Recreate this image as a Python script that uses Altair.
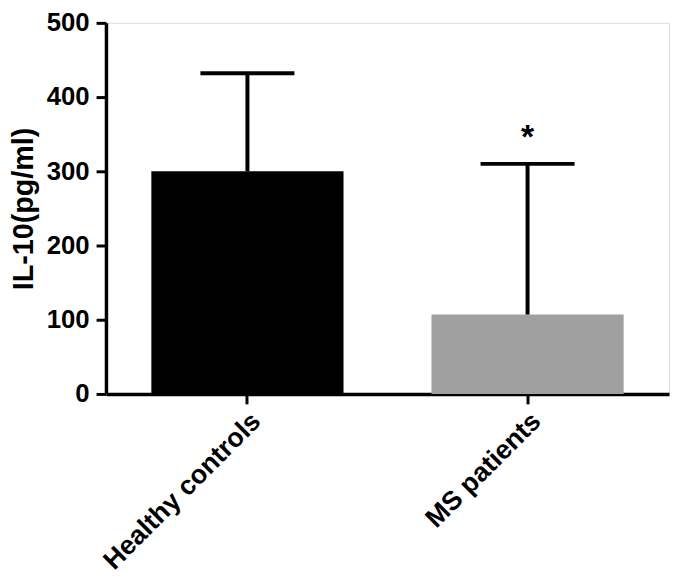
import altair as alt
import pandas as pd

groups = ["Healthy controls", "MS patients"]
means = [300, 107]
upper = [432, 310]
colors = ["#000000", "#a0a0a0"]
sig = ["", "*"]

df = pd.DataFrame({"group": groups, "mean": means, "upper": upper, "color": colors, "sig": sig})

FONT = "Liberation Sans"

x = alt.X("group:N", sort=groups, title=None,
          scale=alt.Scale(paddingInner=0.314, paddingOuter=0.162),
          axis=alt.Axis(labelAngle=-45, labelFontSize=27, labelFont=FONT, labelFontWeight="bold",
                        labelColor="black", domainColor="black", domainWidth=3.5, tickColor="black",
                        tickWidth=3, tickSize=10, labelPadding=4, labelLimit=500))
y = alt.Y("mean:Q", title="IL-10(pg/ml)",
          scale=alt.Scale(domain=[0, 500], nice=False),
          axis=alt.Axis(values=[0, 100, 200, 300, 400, 500], labelFontSize=26, labelFont=FONT,
                        labelFontWeight="bold", labelColor="black", titleFontSize=29, titleFont=FONT,
                        titleFontWeight="bold", titleColor="black", domainColor="black", domainWidth=3.5,
                        tickColor="black", tickWidth=3, tickSize=10, grid=False, titlePadding=8,
                        labelPadding=7))

base = alt.Chart(df)
bars = base.mark_bar(opacity=1).encode(x=x, y=y, color=alt.Color("color:N", scale=None))
err = base.mark_rule(color="black", strokeWidth=4, opacity=1).encode(
    x=alt.X("group:N", sort=groups), y="mean:Q", y2="upper:Q")
caps = base.mark_tick(color="black", size=95, thickness=4, opacity=1).encode(
    x=alt.X("group:N", sort=groups), y="upper:Q")
stars = base.mark_text(fontSize=34, fontWeight="bold", font=FONT, dy=-9, baseline="bottom", color="black").encode(
    x=alt.X("group:N", sort=groups), y="upper:Q", text="sig:N")

chart = alt.layer(bars, err, caps, stars).properties(
    width=569, height=375,
    autosize=alt.AutoSizeParams(type="none"),
    padding={"left": 99, "top": 12, "right": 2, "bottom": 186},
).configure_view(stroke=None).configure(background="white")

chart.save("out.html", embed_options={"renderer": "svg", "actions": False})
